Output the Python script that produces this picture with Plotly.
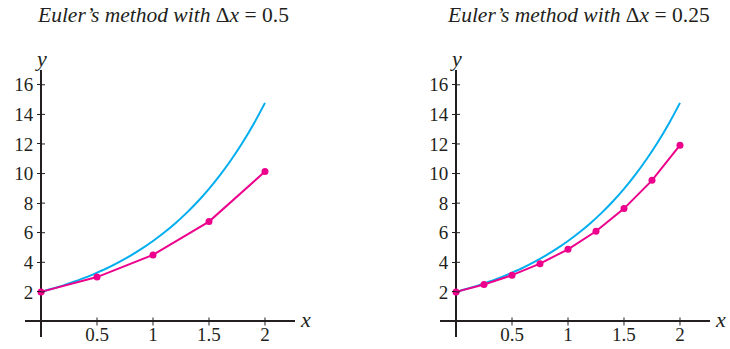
import plotly.graph_objects as go

# ---- data ----
exact_x = [0.0, 0.1, 0.2, 0.3, 0.4, 0.5, 0.6, 0.7, 0.8, 0.9, 1.0,
           1.1, 1.2, 1.3, 1.4, 1.5, 1.6, 1.7, 1.8, 1.9, 2.0]
exact_y = [2.00, 2.21, 2.44, 2.70, 2.98, 3.30, 3.64, 4.03, 4.45, 4.92, 5.44,
           6.01, 6.64, 7.34, 8.11, 8.96, 9.91, 10.95, 12.10, 13.37, 14.78]

euler_half_x = [0, 0.5, 1, 1.5, 2]
euler_half_y = [2, 3, 4.5, 6.75, 10.13]

euler_quarter_x = [0, 0.25, 0.5, 0.75, 1, 1.25, 1.5, 1.75, 2]
euler_quarter_y = [2, 2.5, 3.13, 3.91, 4.88, 6.1, 7.63, 9.54, 11.92]

x_tick_vals = [0.5, 1, 1.5, 2]
x_tick_text = ["0.5", "1", "1.5", "2"]
y_tick_vals = [2, 4, 6, 8, 10, 12, 14, 16]
y_tick_text = ["2", "4", "6", "8", "10", "12", "14", "16"]

titles = ["<i>Euler\u2019s method with</i> \u0394<i>x</i> = 0.5",
          "<i>Euler\u2019s method with</i> \u0394<i>x</i> = 0.25"]

# ---- styling ----
W, H = 730, 349
BLUE = "#00aeef"
PINK = "#ec008c"
INK = "#231f20"
FONT = "Liberation Serif, DejaVu Serif, serif"

XR = [-0.143, 2.268]
YR = [-1.05, 17.0]
ydom = [12 / H, 279 / H]
xdoms = [[25 / W, 295 / W], [440 / W, 710 / W]]

fig = go.Figure()
panels = [(euler_half_x, euler_half_y), (euler_quarter_x, euler_quarter_y)]

shapes = []
annotations = []
for i, (ex, ey) in enumerate(panels):
    xa = "x" if i == 0 else "x2"
    ya = "y" if i == 0 else "y2"
    fig.add_trace(go.Scatter(x=exact_x, y=exact_y, mode="lines",
                             line=dict(color=BLUE, width=2, shape="spline"),
                             xaxis=xa, yaxis=ya, hoverinfo="skip"))
    fig.add_trace(go.Scatter(x=ex, y=ey, mode="lines+markers",
                             line=dict(color=PINK, width=2),
                             marker=dict(color=PINK, size=7),
                             xaxis=xa, yaxis=ya))
    dom = xdoms[i]
    xpos0 = dom[0] + (0 - XR[0]) / (XR[1] - XR[0]) * (dom[1] - dom[0])
    ypos0 = ydom[0] + (0 - YR[0]) / (YR[1] - YR[0]) * (ydom[1] - ydom[0])
    xkey = "xaxis" if i == 0 else "xaxis2"
    ykey = "yaxis" if i == 0 else "yaxis2"
    fig.update_layout(**{
        xkey: dict(domain=dom, range=XR, anchor="free", position=ypos0,
                   showgrid=False, showline=False,
                   zeroline=True, zerolinecolor=INK, zerolinewidth=2,
                   tickvals=x_tick_vals, ticktext=x_tick_text,
                   ticks="",
                   tickfont=dict(family=FONT, size=19, color=INK),
                   automargin=False, fixedrange=True),
        ykey: dict(domain=ydom, range=YR, anchor="free", position=xpos0,
                   showgrid=False, showline=False,
                   zeroline=True, zerolinecolor=INK, zerolinewidth=2,
                   tickvals=y_tick_vals, ticktext=y_tick_text,
                   ticks="outside", ticklen=4, tickwidth=1, tickcolor=INK,
                   tickfont=dict(family=FONT, size=19, color=INK),
                   automargin=False, fixedrange=True),
    })
    # crossing ticks
    for v in x_tick_vals:
        shapes.append(dict(type="line", xref=xa, yref=ya, x0=v, x1=v,
                           ysizemode="pixel", yanchor=0, y0=-4, y1=4,
                           line=dict(color=INK, width=1)))
    for v in y_tick_vals:
        shapes.append(dict(type="line", xref=xa, yref=ya, y0=v, y1=v,
                           xsizemode="pixel", xanchor=0, x0=0, x1=4,
                           line=dict(color=INK, width=1)))
    # axis labels
    annotations.append(dict(text="<i>y</i>", xref="paper", yref="paper",
                            x=xpos0, y=ydom[1], xanchor="center", yanchor="bottom",
                            showarrow=False, yshift=-3,
                            font=dict(family=FONT, size=22, color=INK)))
    annotations.append(dict(text="<i>x</i>", xref="paper", yref="paper",
                            x=dom[1], y=ypos0, xanchor="left", yanchor="middle",
                            showarrow=False, xshift=3, yshift=2,
                            font=dict(family=FONT, size=22, color=INK)))
    # title
    annotations.append(dict(text=titles[i], xref="paper", yref="paper",
                            x=(35 / W) if i == 0 else (445 / W), y=1.0,
                            xanchor="left", yanchor="top", yshift=-1,
                            showarrow=False,
                            font=dict(family=FONT, size=21.5, color=INK)))

fig.update_layout(width=W, height=H, autosize=False,
                  margin=dict(l=0, r=0, t=0, b=0),
                  paper_bgcolor="white", plot_bgcolor="white",
                  showlegend=False, shapes=shapes, annotations=annotations)

fig.write_html("out.html", config={"displayModeBar": False, "staticPlot": True},
               post_script="document.body.style.margin='0';document.body.style.overflow='hidden';")
